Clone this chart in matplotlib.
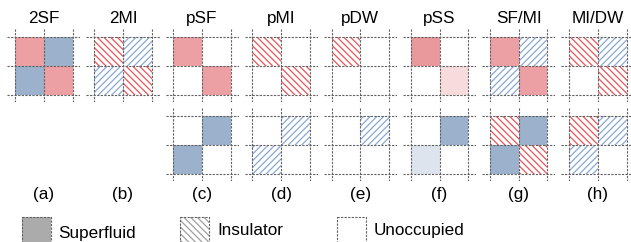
import matplotlib
matplotlib.use("Agg")
import matplotlib.pyplot as plt
from matplotlib.patches import Rectangle

plt.rcParams['font.family'] = ['Liberation Sans', 'DejaVu Sans']
plt.rcParams['hatch.linewidth'] = 0.9

# ---- data ----
titles = ["2SF", "2MI", "pSF", "pMI", "pDW", "pSS", "SF/MI", "MI/DW"]
letters = ["(a)", "(b)", "(c)", "(d)", "(e)", "(f)", "(g)", "(h)"]
# cell codes: R red superfluid, B blue superfluid, r red insulator,
# b blue insulator, p faint red superfluid, q faint blue superfluid, . empty
upper = [
    ["RB", "BR"],
    ["rb", "br"],
    ["R.", ".R"],
    ["r.", ".r"],
    ["r.", ".."],
    ["S.", ".p"],
    ["Rb", "bR"],
    ["rb", ".r"],
]
lower = [
    None,
    None,
    [".B", "B."],
    [".b", "b."],
    [".b", ".."],
    [".B", "q."],
    ["rB", "Br"],
    ["rb", "b."],
]
legend_labels = ["Superfluid", "Insulator", "Unoccupied"]
legend_codes = ["G", "g", "."]

# ---- styles ----
styles = {
    "R": dict(fill="#EDA0A4", hatch=None),
    "S": dict(fill="#E9989C", hatch=None),
    "p": dict(fill="#F8DBDC", hatch=None),
    "B": dict(fill="#9CB1CB", hatch=None),
    "q": dict(fill="#DDE4ED", hatch=None),
    "r": dict(fill="white", hatch="\\\\\\\\\\", hcol="#E8555B"),
    "b": dict(fill="white", hatch="/////", hcol="#8AA8D4"),
    "G": dict(fill="#ABABAB", hatch=None),
    "g": dict(fill="white", hatch="\\\\\\\\\\", hcol="#A0A0A0"),
    ".": dict(fill=None, hatch=None),
}
GRID_COL = "#606060"
GRID_LS = (0, (2.0, 1.2))

W, H = 631, 242
fig = plt.figure(figsize=(W / 100, H / 100), dpi=100)

S = 28.8          # cell size in px
EXT = 0.27        # grid line extension in cells
COL0 = 15.0
COLSTEP = 79.14
TOP_Y = [37.0, 116.0]


def px_axes(left, top, width, height):
    return fig.add_axes([left / W, 1 - (top + height) / H, width / W, height / H])


def draw_cell(ax, x, y, code, w=1, h=1, edge=True):
    st = styles[code]
    if st["fill"] is not None:
        ax.add_patch(Rectangle((x, y), w, h, facecolor=st["fill"], edgecolor="none", lw=0, zorder=1))
    if st.get("hatch"):
        ax.add_patch(Rectangle((x, y), w, h, facecolor="none", edgecolor=st["hcol"],
                               hatch=st["hatch"], lw=0, zorder=2))


def draw_panel(ax, grid):
    ax.set_xlim(-EXT, 2 + EXT)
    ax.set_ylim(2 + EXT, -EXT)
    ax.axis("off")
    for row, line in enumerate(grid):
        for col, code in enumerate(line):
            draw_cell(ax, col, row, code)
    for k in range(3):
        ax.plot([-EXT, 2 + EXT], [k, k], color=GRID_COL, lw=0.8, ls=GRID_LS, zorder=5)
        ax.plot([k, k], [-EXT, 2 + EXT], color=GRID_COL, lw=0.8, ls=GRID_LS, zorder=5)


for i, t in enumerate(titles):
    x0 = COL0 + COLSTEP * i
    for j, grid in enumerate([upper[i], lower[i]]):
        if grid is None:
            continue
        ax = px_axes(x0 - EXT * S, TOP_Y[j] - EXT * S, (2 + 2 * EXT) * S, (2 + 2 * EXT) * S)
        draw_panel(ax, grid)
    cx = x0 + S
    fig.text(cx / W, 1 - 23.3 / H, t, ha="center", va="baseline", fontsize=12.3)
    fig.text(cx / W, 1 - 199.5 / H, letters[i], ha="center", va="baseline", fontsize=12.3)

# ---- legend ----
leg_box_x = [22.0, 180.0, 337.0]
leg_txt_x = [58.0, 217.0, 374.0]
leg_txt_y = [238.0, 235.0, 235.0]
for bx, tx, ty, lab, code in zip(leg_box_x, leg_txt_x, leg_txt_y, legend_labels, legend_codes):
    ax = px_axes(bx - 2, 217.0 - 2, S + 4, S + 4)
    ax.set_xlim(-2 / S, 1 + 2 / S)
    ax.set_ylim(1 + 2 / S, -2 / S)
    ax.axis("off")
    draw_cell(ax, 0, 0, code)
    ax.add_patch(Rectangle((0, 0), 1, 1, facecolor="none", edgecolor=GRID_COL, lw=0.8,
                           ls=GRID_LS, zorder=5))
    fig.text(tx / W, 1 - ty / H, lab, ha="left", va="baseline", fontsize=12.3)

fig.savefig("out.png", dpi=100)
